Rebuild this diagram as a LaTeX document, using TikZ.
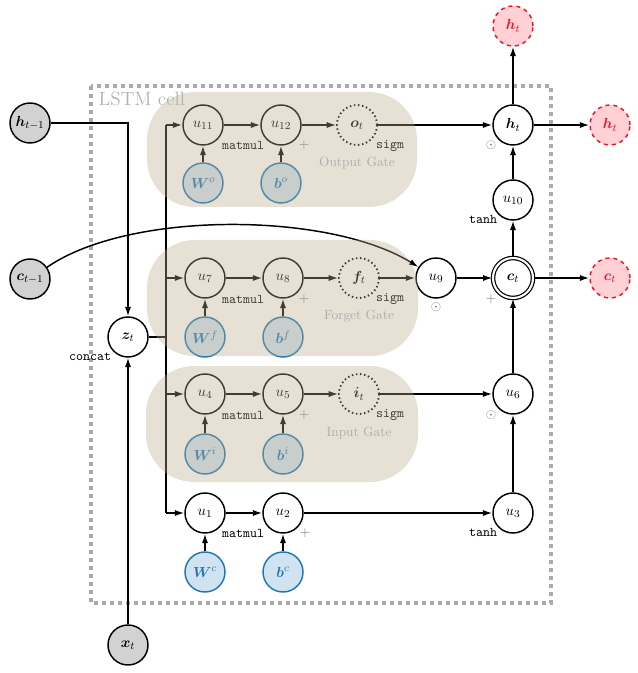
\documentclass[tikz,border=0pt]{standalone}
\usepackage{amsmath,bm}
\usetikzlibrary{arrows.meta}
\definecolor{gatec}{RGB}{185,170,138}
\definecolor{wblue}{RGB}{31,119,180}
\definecolor{wfill}{RGB}{208,227,241}
\definecolor{redn}{RGB}{235,20,40}
\definecolor{redfill}{RGB}{255,208,212}
\definecolor{graynode}{RGB}{210,210,210}
\definecolor{cellgray}{RGB}{170,170,170}
\begin{document}
\begin{tikzpicture}[x=0.75pt,y=-0.75pt,
  >={Latex[length=7pt,width=4.6pt]},
  op/.style={circle,draw,line width=1.1pt,minimum size=30pt,inner sep=0.5pt,font=\fontsize{11}{13}\selectfont},
  gatenode/.style={op,dotted,line width=1.4pt},
  inp/.style={op,fill=graynode},
  wnode/.style={op,draw=wblue,fill=wfill,text=wblue},
  outn/.style={op,draw=redn,dashed,fill=redfill,text=redn},
  conn/.style={line width=1.1pt,->},
  wire/.style={line width=1.1pt},
  lbl/.style={font=\ttfamily},
  opsym/.style={text=black!55},
  gatebox/.style={fill=gatec,fill opacity=0.36,rounded corners=36pt},
  gatelabel/.style={text=black!32}
]
\useasboundingbox (0,0) rectangle (637,673);

% LSTM cell frame
\draw[cellgray,line width=3pt,dash pattern=on 3pt off 3pt] (91,86) rectangle (551,603);

% inputs
\node[inp] (hprev) at (30,123) {$\bm{h}_{t-1}$};
\node[inp] (cprev) at (30,279) {$\bm{c}_{t-1}$};
\node[inp] (x) at (128,645) {$\bm{x}_t$};
\node[op] (z) at (128,337) {$\bm{z}_t$};

% bus
\coordinate (bustop) at (166,125);
\coordinate (busf) at (166,278);
\coordinate (busmid) at (166,337);
\coordinate (busi) at (166,394);
\coordinate (busbot) at (166,513);

% output gate row
\node[op] (u11) at (203,125) {$u_{11}$};
\node[op] (u12) at (281,125) {$u_{12}$};
\node[gatenode] (o) at (357,125) {$\bm{o}_t$};
\node[op] (h) at (513,125) {$\bm{h}_t$};
\node[outn] (hout) at (610,125) {$\bm{h}_t$};
\node[outn] (htop) at (513,26) {$\bm{h}_t$};
\node[op] (u10) at (513,200) {$u_{10}$};
\node[wnode] (Wo) at (203,183) {$\bm{W}^{o}$};
\node[wnode] (bo) at (281,183) {$\bm{b}^{o}$};

% forget gate row
\node[op] (u7) at (205,278) {$u_{7}$};
\node[op] (u8) at (283,278) {$u_{8}$};
\node[gatenode] (f) at (359,278) {$\bm{f}_t$};
\node[op] (u9) at (436,278) {$u_{9}$};
\node[op,double,double distance=1.6pt,line width=0.9pt] (c) at (513,278) {$\bm{c}_t$};
\node[outn] (cout) at (610,278) {$\bm{c}_t$};
\node[wnode] (Wf) at (205,337) {$\bm{W}^{f}$};
\node[wnode] (bf) at (283,337) {$\bm{b}^{f}$};

% input gate row
\node[op] (u4) at (205,394) {$u_{4}$};
\node[op] (u5) at (283,394) {$u_{5}$};
\node[gatenode] (i) at (359,394) {$\bm{i}_t$};
\node[op] (u6) at (513,394) {$u_{6}$};
\node[wnode] (Wi) at (205,454) {$\bm{W}^{i}$};
\node[wnode] (bi) at (283,454) {$\bm{b}^{i}$};

% candidate row
\node[op] (u1) at (205,513) {$u_{1}$};
\node[op] (u2) at (283,513) {$u_{2}$};
\node[op] (u3) at (513,513) {$u_{3}$};
\node[wnode] (Wc) at (205,572) {$\bm{W}^{c}$};
\node[wnode] (bc) at (283,572) {$\bm{b}^{c}$};

% connections
\draw[conn] (hprev.east) -| (z.north);
\draw[conn] (x) -- (z);
\draw[wire] (z.east) -- (busmid);
\draw[wire] (bustop) -- (busbot);
\draw[conn] (bustop) -- (u11);
\draw[conn] (busf) -- (u7);
\draw[conn] (busi) -- (u4);
\draw[conn] (busbot) -- (u1);

\draw[conn] (u11) -- (u12);
\draw[conn] (u12) -- (o);
\draw[conn] (o) -- (h);
\draw[conn] (Wo) -- (u11);
\draw[conn] (bo) -- (u12);
\draw[conn] (h) -- (hout);
\draw[conn] (h) -- (htop);
\draw[conn] (u10) -- (h);

\draw[conn] (u7) -- (u8);
\draw[conn] (u8) -- (f);
\draw[conn] (f) -- (u9);
\draw[conn] (u9) -- (c);
\draw[conn] (c) -- (cout);
\draw[conn] (c) -- (u10);
\draw[conn] (Wf) -- (u7);
\draw[conn] (bf) -- (u8);
\draw[conn] (cprev) .. controls (130,210) and (330,212) .. (u9);

\draw[conn] (u4) -- (u5);
\draw[conn] (u5) -- (i);
\draw[conn] (i) -- (u6);
\draw[conn] (u6) -- (c);
\draw[conn] (Wi) -- (u4);
\draw[conn] (bi) -- (u5);

\draw[conn] (u1) -- (u2);
\draw[conn] (u2) -- (u3);
\draw[conn] (u3) -- (u6);
\draw[conn] (Wc) -- (u1);
\draw[conn] (bc) -- (u2);

% operation labels
\node[lbl] at (243,145) {matmul};
\node[lbl] at (243,299) {matmul};
\node[lbl] at (243,415) {matmul};
\node[lbl] at (243,533) {matmul};
\node[opsym] at (304,145) {$+$};
\node[opsym] at (304,299) {$+$};
\node[opsym] at (304,415) {$+$};
\node[opsym] at (305,533) {$+$};
\node[lbl] at (390,146) {sigm};
\node[lbl] at (390,299) {sigm};
\node[lbl] at (390,415) {sigm};
\node[opsym] at (491,145) {$\odot$};
\node[opsym] at (436,307) {$\odot$};
\node[opsym] at (491,415) {$\odot$};
\node[opsym] at (491,299) {$+$};
\node[lbl] at (483,219) {tanh};
\node[lbl] at (483,532) {tanh};
\node[lbl] at (90,357) {concat};

% gate overlays
\fill[gatebox] (147,92) rectangle (417,207);
\fill[gatebox] (147,240) rectangle (418,356);
\fill[gatebox] (146,366) rectangle (418,482);
\node[gatelabel] at (357,163) {Output Gate};
\node[gatelabel] at (359,316) {Forget Gate};
\node[gatelabel] at (359,433) {Input Gate};
\node[anchor=west,text=black!30,font=\Large] at (94,99) {LSTM cell};
\end{tikzpicture}
\end{document}
